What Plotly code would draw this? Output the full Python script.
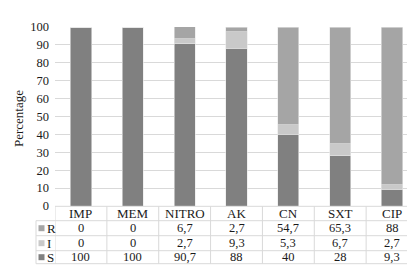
import plotly.graph_objects as go

categories = ["IMP", "MEM", "NITRO", "AK", "CN", "SXT", "CIP"]
R_vals = [0, 0, 6.7, 2.7, 54.7, 65.3, 88]
I_vals = [0, 0, 2.7, 9.3, 5.3, 6.7, 2.7]
S_vals = [100, 100, 90.7, 88, 40, 28, 9.3]
series_names = ["R", "I", "S"]
y_ticks = list(range(0, 101, 10))

colors = {"S": "#808080", "I": "#c9c9c9", "R": "#a5a5a5"}
FONT = "Liberation Serif"
TXT = "#1a1a1a"

W, H = 415, 266
ML, MR, MT, MB = 47, 5, 19, 68
PW, PH = W - ML - MR, H - MT - MB

def px_to_py(Y):
    return (H - MB - Y) / PH

def px_to_px(X):
    return (X - ML) / PW

fig = go.Figure()
vals = {"R": R_vals, "I": I_vals, "S": S_vals}
for name in ["S", "I", "R"]:
    fig.add_trace(go.Bar(
        x=categories, y=vals[name], name=name,
        marker=dict(color=colors[name], line=dict(color="#e8e8e8", width=0.6)),
        width=0.41, showlegend=False, hoverinfo="skip",
    ))

shapes = []
anns = []
grid = "#d9d9d9"
row_lines = [198.3, 212.7, 227.7, 242.7, 255.7]
shapes.append(dict(type="line", xref="paper", yref="paper", x0=0, x1=1,
                   y0=px_to_py(row_lines[0]), y1=px_to_py(row_lines[0]),
                   line=dict(color=grid, width=1)))
for Y in row_lines[1:]:
    shapes.append(dict(type="line", xref="paper", yref="paper", x0=px_to_px(28), x1=1,
                       y0=px_to_py(Y), y1=px_to_py(Y), line=dict(color=grid, width=1)))
n = len(categories)
for i in range(n + 1):
    shapes.append(dict(type="line", xref="x", yref="paper", x0=i - 0.5, x1=i - 0.5,
                       y0=px_to_py(row_lines[0]), y1=px_to_py(row_lines[-1]),
                       line=dict(color=grid, width=1)))
shapes.append(dict(type="line", xref="paper", yref="paper", x0=px_to_px(28), x1=px_to_px(28),
                   y0=px_to_py(row_lines[1]), y1=px_to_py(row_lines[-1]),
                   line=dict(color=grid, width=1)))

hy = px_to_py((row_lines[0] + row_lines[1]) / 2)
for c in categories:
    anns.append(dict(x=c, y=hy, xref="x", yref="paper", text=c, showarrow=False,
                     font=dict(family=FONT, size=13, color=TXT), xanchor="center", yanchor="middle"))

def fmt(v):
    return ("%g" % v).replace(".", ",")

for r, name in enumerate(series_names):
    yc = px_to_py((row_lines[r + 1] + row_lines[r + 2]) / 2)
    for c, v in zip(categories, vals[name]):
        anns.append(dict(x=c, y=yc, xref="x", yref="paper", text=fmt(v), showarrow=False,
                         font=dict(family=FONT, size=12.5, color=TXT), xanchor="center", yanchor="middle"))
    Yc = (row_lines[r + 1] + row_lines[r + 2]) / 2
    shapes.append(dict(type="rect", xref="paper", yref="paper",
                       x0=px_to_px(30.5), x1=px_to_px(36.5),
                       y0=px_to_py(Yc + 3), y1=px_to_py(Yc - 3),
                       fillcolor=colors[name], line=dict(width=0)))
    anns.append(dict(x=px_to_px(37), y=yc, xref="paper", yref="paper", text=name, showarrow=False,
                     font=dict(family=FONT, size=13, color=TXT), xanchor="left", yanchor="middle"))

anns.append(dict(x=px_to_px(10), y=px_to_py(111), xref="paper", yref="paper", text="Percentage",
                 textangle=-90, showarrow=False, font=dict(family=FONT, size=13, color=TXT),
                 xanchor="center", yanchor="middle"))

fig.update_layout(
    width=W, height=H, barmode="stack",
    margin=dict(l=ML, r=MR, t=MT, b=MB),
    paper_bgcolor="white", plot_bgcolor="white",
    xaxis=dict(showticklabels=False, showgrid=False, zeroline=False, showline=False,
               range=[-0.5, n - 0.5], fixedrange=True),
    yaxis=dict(range=[0, 100], tickvals=y_ticks, showgrid=True, gridcolor=grid, gridwidth=1,
               zeroline=False, showline=False, ticklabelstandoff=5,
               tickfont=dict(family=FONT, size=12.5, color=TXT)),
    shapes=shapes, annotations=anns,
    font=dict(family=FONT),
)

fig.write_html("out.html")
